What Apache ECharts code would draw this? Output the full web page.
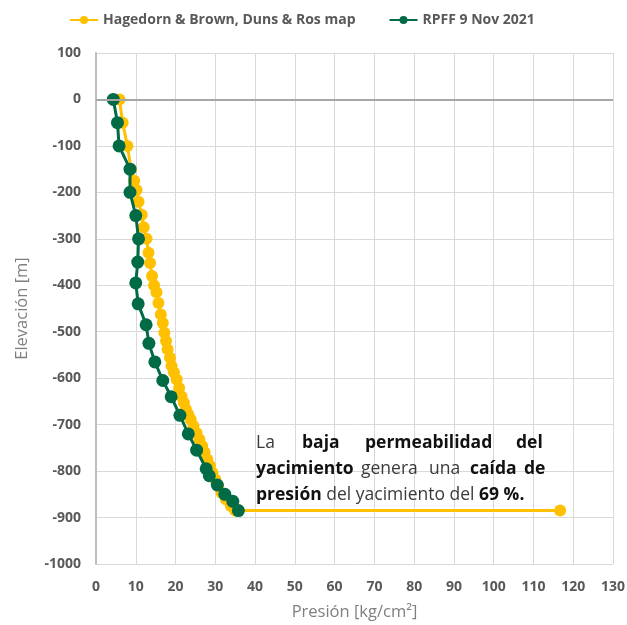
<!DOCTYPE html>
<html><head><meta charset="utf-8">
<script src="https://cdn.jsdelivr.net/npm/echarts@6/dist/echarts.min.js"></script>
<style>html,body{margin:0;padding:0;background:#fff}#c{width:627px;height:625px}</style>
</head><body><div id="c"></div>
<script>
const seriesNames = ['Hagedorn & Brown, Duns & Ros map', 'RPFF 9 Nov 2021'];
const hbPressure = [5.9,6.7,7.9,8.8,9.6,10.2,10.7,11.5,12.0,12.7,13.2,13.6,14.1,14.6,15.2,15.7,16.3,16.8,17.2,17.6,18.0,18.6,19.0,19.6,20.3,20.9,21.5,22.1,22.6,23.2,23.8,24.5,25.3,26.0,26.7,27.3,28.0,28.7,29.3,30.0,30.7,31.6,32.7,33.9,35.0,116.7];
const hbElev = [0,-50,-100,-150,-175,-195,-220,-248,-275,-300,-330,-352,-380,-400,-415,-438,-463,-481,-502,-520,-538,-556,-574,-588,-603,-621,-639,-653,-667,-678,-689,-703,-718,-732,-746,-760,-775,-789,-804,-818,-832,-847,-861,-875,-885,-885];
const rpffPressure = [4.35,5.4,5.8,8.55,8.55,10.0,10.7,10.5,10.0,10.6,12.6,13.3,14.8,16.8,18.9,21.1,23.2,25.3,27.7,28.5,30.5,32.4,34.4,35.8];
const rpffElev = [0,-50,-100,-150,-200,-250,-300,-350,-395,-440,-485,-525,-565,-605,-640,-680,-720,-755,-795,-810,-830,-850,-865,-885];
const xTicks = {min:0, max:130, interval:10};
const yTicks = {min:-1000, max:100, interval:100};

const chart = echarts.init(document.getElementById('c'));
const F = 'Open Sans, Liberation Sans, sans-serif';
const zip = (a,b) => a.map((v,i)=>[v,b[i]]);

// annotation words: [text, bold, x, y]
const words = [
  ['La',false,256,443],['baja',true,302,443],['permeabilidad',true,365,443],['del',true,516,443],
  ['yacimiento',true,256,469],['genera',false,361,469],['una',false,429,469],['caída',true,470,469],['de',true,524,469]
];
const line3 = '{b|presión} {n|del yacimiento del} {b|69 %.}';

chart.setOption({
  animation:false,
  textStyle:{fontFamily:F},
  legend:{top:8,left:64,itemWidth:28,itemHeight:10,itemGap:33,
    textStyle:{fontSize:14,fontWeight:'bold',color:'#595959',fontFamily:F},
    data:seriesNames},
  grid:{left:96,top:53,width:517,height:511,outerBoundsMode:'none',containLabel:false},
  xAxis:{type:'value',min:xTicks.min,max:xTicks.max,interval:xTicks.interval,
    name:'Presión [kg/cm²]',nameLocation:'middle',nameGap:40,
    nameTextStyle:{fontSize:16.5,color:'#7f7f7f',fontFamily:F},
    axisLine:{show:false},axisTick:{show:false},
    axisLabel:{fontSize:14,fontWeight:'bold',color:'#595959',margin:16,fontFamily:F,formatter:v=>String(v)},
    splitLine:{lineStyle:{color:'#d9d9d9',width:1}}},
  yAxis:{type:'value',min:yTicks.min,max:yTicks.max,interval:yTicks.interval,
    name:'Elevación [m]',nameLocation:'middle',nameGap:65,nameRotate:90,
    nameTextStyle:{fontSize:16.5,color:'#7f7f7f',fontFamily:F},
    axisLine:{show:true,lineStyle:{color:'#bfbfbf',width:2}},axisTick:{show:false},
    axisLabel:{fontSize:14,fontWeight:'bold',color:'#595959',margin:15,fontFamily:F,formatter:v=>String(v)},
    splitLine:{lineStyle:{color:'#d9d9d9',width:1}}},
  series:[
    {name:seriesNames[0],type:'line',data:zip(hbPressure,hbElev),
     symbol:'circle',symbolSize:12,color:'#FFC000',
     lineStyle:{width:3,color:'#FFC000'},itemStyle:{color:'#FFC000'},z:2,
     markLine:{silent:true,symbol:['none','none'],label:{show:false},
       lineStyle:{color:'#a6a6a6',width:2,type:'solid'},data:[{yAxis:0}]}},
    {name:seriesNames[1],type:'line',data:zip(rpffPressure,rpffElev),
     symbol:'circle',symbolSize:13,color:'#006B45',
     lineStyle:{width:3,color:'#006B45'},itemStyle:{color:'#006B45'},z:3}
  ],
  graphic: words.map(w=>({type:'text',x:w[2],y:w[3],z:10,
    style:{text:w[0],fontSize:17.5,fontFamily:F,fontWeight:w[1]?'bold':'normal',
      fill:w[1]?'#111':'#3a3a3a',verticalAlign:'middle',align:'left'}})).concat([
    {type:'text',x:256,y:495,z:10,style:{text:line3,fontSize:17.5,fontFamily:F,fill:'#3a3a3a',
      verticalAlign:'middle',align:'left',
      rich:{b:{fontSize:17.5,fontFamily:F,fontWeight:'bold',fill:'#111'},
            n:{fontSize:17.5,fontFamily:F,fill:'#3a3a3a'}}}}])
});
</script></body></html>
